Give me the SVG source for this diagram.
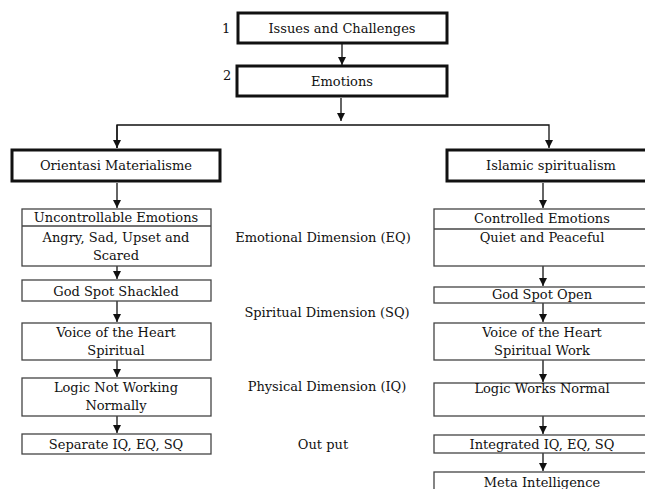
<svg xmlns="http://www.w3.org/2000/svg" width="645" height="489" viewBox="0 0 645 489">
<defs>
<style>
text{font-family:"DejaVu Serif","Liberation Serif",serif;font-size:13px;fill:#111;text-anchor:middle}
.thick{fill:#fff;stroke:#111;stroke-width:3}
.thin{fill:#fff;stroke:#444;stroke-width:1.3}
.c{fill:none;stroke:#111;stroke-width:1.3}
.num{text-anchor:start}
</style>
<marker id="ah" viewBox="0 0 10 10" refX="10" refY="5" markerWidth="8" markerHeight="8" markerUnits="userSpaceOnUse" orient="auto">
<path d="M0,0 L10,5 L0,10 z" fill="#111"/>
</marker>
</defs>
<rect width="645" height="489" fill="#fff"/>
<g id="connectors">
<line class="c" x1="342" y1="44" x2="342" y2="65" marker-end="url(#ah)"/>
<line class="c" x1="341" y1="98" x2="341" y2="121" marker-end="url(#ah)"/>
<polyline class="c" points="117,148 117,125 549,125 549,148" marker-end="url(#ah)"/>
<line class="c" x1="117" y1="125" x2="117" y2="148" marker-end="url(#ah)"/>
<line class="c" x1="117" y1="183" x2="117" y2="208" marker-end="url(#ah)"/>
<line class="c" x1="117" y1="266" x2="117" y2="279" marker-end="url(#ah)"/>
<line class="c" x1="117" y1="301" x2="117" y2="322" marker-end="url(#ah)"/>
<line class="c" x1="117" y1="360" x2="117" y2="377" marker-end="url(#ah)"/>
<line class="c" x1="117" y1="416" x2="117" y2="433" marker-end="url(#ah)"/>
<line class="c" x1="543" y1="183" x2="543" y2="208" marker-end="url(#ah)"/>
<line class="c" x1="543" y1="266" x2="543" y2="286" marker-end="url(#ah)"/>
<line class="c" x1="543" y1="303" x2="543" y2="322" marker-end="url(#ah)"/>
<line class="c" x1="543" y1="360" x2="543" y2="382" marker-end="url(#ah)"/>
<line class="c" x1="543" y1="416" x2="543" y2="434" marker-end="url(#ah)"/>
<line class="c" x1="543" y1="453" x2="543" y2="471" marker-end="url(#ah)"/>
</g>
<g id="n1"><rect class="thick" x="238" y="13" width="209" height="30"/><text x="342" y="33">Issues and Challenges</text><text class="num" x="222" y="33">1</text></g>
<g id="n2"><rect class="thick" x="237" y="66" width="210" height="30"/><text x="342" y="86">Emotions</text><text class="num" x="223" y="80">2</text></g>
<g id="orientasi"><rect class="thick" x="12" y="150" width="208" height="31"/><text x="116" y="170">Orientasi Materialisme</text></g>
<g id="islamic"><rect class="thick" x="447" y="150" width="210" height="31"/><text x="551" y="170">Islamic spiritualism</text></g>
<g id="l1"><rect class="thin" x="22" y="209" width="189" height="57"/><line class="thin" x1="22" y1="226" x2="211" y2="226"/><text x="116" y="222">Uncontrollable Emotions</text><text x="116" y="242">Angry, Sad, Upset and</text><text x="116" y="260">Scared</text></g>
<g id="l2"><rect class="thin" x="22" y="280" width="189" height="21"/><text x="116" y="296">God Spot Shackled</text></g>
<g id="l3"><rect class="thin" x="22" y="323" width="189" height="37"/><text x="116" y="337">Voice of the Heart</text><text x="116" y="355">Spiritual</text></g>
<g id="l4"><rect class="thin" x="22" y="378" width="189" height="38"/><text x="116" y="392">Logic Not Working</text><text x="116" y="410">Normally</text></g>
<g id="l5"><rect class="thin" x="22" y="434" width="189" height="20"/><text x="116" y="449">Separate IQ, EQ, SQ</text></g>
<g id="r1"><rect class="thin" x="434" y="209" width="218" height="57"/><line class="thin" x1="434" y1="229" x2="652" y2="229"/><text x="542" y="223">Controlled Emotions</text><text x="542" y="242">Quiet and Peaceful</text></g>
<g id="r2"><rect class="thin" x="434" y="287" width="218" height="16"/><text x="542" y="299">God Spot Open</text></g>
<g id="r3"><rect class="thin" x="434" y="323" width="218" height="37"/><text x="542" y="337">Voice of the Heart</text><text x="542" y="355">Spiritual Work</text></g>
<g id="r4"><rect class="thin" x="434" y="383" width="218" height="33"/><text x="542" y="393">Logic Works Normal</text></g>
<g id="r5"><rect class="thin" x="434" y="435" width="218" height="18"/><text x="542" y="449">Integrated IQ, EQ, SQ</text></g>
<g id="r6"><rect class="thin" x="434" y="472" width="218" height="30"/><text x="542" y="487">Meta Intelligence</text></g>
<g id="dims">
<text x="323" y="242">Emotional Dimension (EQ)</text>
<text x="327" y="317">Spiritual Dimension (SQ)</text>
<text x="327" y="391">Physical Dimension (IQ)</text>
<text x="323" y="449">Out put</text>
</g>
</svg>
